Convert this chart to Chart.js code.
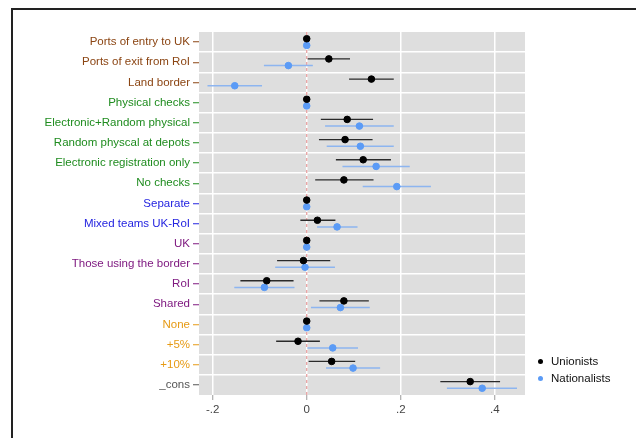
<!DOCTYPE html>
<html>
<head>
<meta charset="utf-8">
<script src="https://cdn.jsdelivr.net/npm/chart.js@4.4.0/dist/chart.umd.min.js"></script>
<style>
  html, body { margin: 0; padding: 0; background: #fff; }
  #wrap { position: relative; width: 636px; height: 438px; overflow: hidden; font-family: "Liberation Sans", Arial, sans-serif; }
  #frame { position: absolute; left: 11px; top: 8px; right: -10px; bottom: -10px;
           border-top: 2px solid #222; border-left: 2px solid #222; }
  #grafica { position: absolute; left: 0; top: 0; }
  #leyenda { position: absolute; left: 538px; top: 353px; font-size: 11.5px; line-height: 17px; color: #111; }
  #leyenda .dot { display: inline-block; width: 5px; height: 5px; border-radius: 50%; margin-right: 8px; vertical-align: 1px; }
</style>
</head>
<body>
<div id="wrap">
  <div id="frame"></div>
  <canvas id="grafica" width="636" height="438"></canvas>
  <div id="leyenda"></div>
</div>
<script>
const categories = [
  "Ports of entry to UK", "Ports of exit from RoI", "Land border",
  "Physical checks", "Electronic+Random physical", "Random physcal at depots",
  "Electronic registration only", "No checks",
  "Separate", "Mixed teams UK-RoI",
  "UK", "Those using the border", "RoI", "Shared",
  "None", "+5%", "+10%",
  "_cons"
];
const groups = [
  "location", "location", "location",
  "checks", "checks", "checks", "checks", "checks",
  "teams", "teams",
  "pays", "pays", "pays", "pays",
  "cost", "cost", "cost",
  "cons"
];

const unionCoef = [0, 0.047, 0.1375, 0, 0.086, 0.0815, 0.12, 0.079, 0, 0.0227, 0, -0.007, -0.085, 0.079, 0, -0.0185, 0.053, 0.3475];
const unionLo   = [0, 0.002, 0.090, 0, 0.030, 0.026, 0.062, 0.018, 0, -0.0135, 0, -0.063, -0.141, 0.027, 0, -0.065, 0.004, 0.284];
const unionHi   = [0, 0.092, 0.185, 0, 0.141, 0.140, 0.179, 0.142, 0, 0.061, 0, 0.050, -0.028, 0.132, 0, 0.028, 0.103, 0.411];

const natCoef = [0, -0.039, -0.153, 0, 0.112, 0.114, 0.1475, 0.1915, 0, 0.0645, 0, -0.0036, -0.090, 0.0716, 0, 0.0553, 0.0985, 0.373];
const natLo   = [0, -0.091, -0.211, 0, 0.039, 0.0425, 0.076, 0.119, 0, 0.022, 0, -0.067, -0.154, 0.009, 0, 0.0014, 0.041, 0.298];
const natHi   = [0, 0.013, -0.095, 0, 0.185, 0.185, 0.219, 0.264, 0, 0.108, 0, 0.060, -0.026, 0.134, 0, 0.109, 0.156, 0.447];

const xTickValues = [-0.2, 0, 0.2, 0.4];
const xTickLabels = ["-.2", "0", ".2", ".4"];

const groupColors = {
  location: "#8b4513", checks: "#1f8c1f", teams: "#2424e0",
  pays: "#7f1a80", cost: "#e69a14", cons: "#555555"
};

// black sits a bit above the row centre, blue a bit below
const shift = 0.165;
const font = { family: "'Liberation Sans', Arial, sans-serif", size: 11.5 };

function points(coef, off) {
  return coef.map((v, i) => ({ x: v, y: i + off }));
}
function intervals(lo, hi, off) {
  const out = [];
  lo.forEach((v, i) => {
    out.push({ x: v, y: i + off }, { x: hi[i], y: i + off }, { x: null, y: null });
  });
  return out;
}

const plotBg = {
  id: "plotBg",
  beforeDraw(chart) {
    const { ctx, chartArea: a } = chart;
    ctx.save();
    ctx.fillStyle = "#dedede";
    ctx.fillRect(a.left, a.top, a.right - a.left, a.bottom - a.top);
    ctx.restore();
  }
};

const yMax = categories.length - 0.5;

const chart = new Chart(document.getElementById("grafica"), {
  type: "scatter",
  data: {
    datasets: [
      { label: "Unionists", data: points(unionCoef, -shift), backgroundColor: "#000", borderColor: "#000",
        pointRadius: 3.3, pointHoverRadius: 3.3, order: 1 },
      { label: "Nationalists", data: points(natCoef, shift), backgroundColor: "#5b9bf6", borderColor: "#5b9bf6",
        pointRadius: 3.3, pointHoverRadius: 3.3, order: 1 },
      { label: "ci-u", data: intervals(unionLo, unionHi, -shift), showLine: true, spanGaps: false,
        borderColor: "#2a2a2a", borderWidth: 1.3, pointRadius: 0, order: 3 },
      { label: "ci-n", data: intervals(natLo, natHi, shift), showLine: true, spanGaps: false,
        borderColor: "#8db5f0", borderWidth: 1.5, pointRadius: 0, order: 3 },
      { label: "zero", data: [{ x: 0, y: -0.5 }, { x: 0, y: yMax }], showLine: true,
        borderColor: "#e8a0a0", borderWidth: 1.3, borderDash: [3, 3], pointRadius: 0, order: 5 }
    ]
  },
  options: {
    responsive: false,
    animation: false,
    layout: { padding: { left: 0, top: 32, right: 111, bottom: 0 } },
    plugins: { legend: { display: false }, tooltip: { enabled: false } },
    scales: {
      x: {
        type: "linear", min: -0.229, max: 0.464,
        afterBuildTicks(scale) { scale.ticks = xTickValues.map(v => ({ value: v })); },
        afterFit(scale) { scale.height = 43; },
        grid: { color: "#ffffff", lineWidth: 1.5, tickColor: "#9a9a9a", tickLength: 5, tickWidth: 1 },
        border: { display: false },
        ticks: { callback: (v, i) => xTickLabels[i], color: "#444", padding: 3, font }
      },
      y: {
        type: "linear", reverse: true, min: -0.5, max: yMax,
        afterBuildTicks(scale) {
          const t = [];
          for (let v = 0; v <= categories.length - 1; v += 0.5) t.push({ value: v });
          scale.ticks = t;
        },
        afterFit(scale) { scale.width = 199; },
        grid: {
          color: c => (c.tick && c.tick.value % 1 !== 0) ? "#ffffff" : "rgba(0,0,0,0)",
          lineWidth: 1.5,
          tickColor: c => (c.tick && c.tick.value % 1 === 0) ? groupColors[groups[c.tick.value]] : "rgba(0,0,0,0)",
          tickLength: 6, tickWidth: 1
        },
        border: { display: false },
        ticks: {
          autoSkip: false, padding: 3, font,
          color: c => (c.tick && c.tick.value % 1 === 0) ? groupColors[groups[c.tick.value]] : "#000",
          callback: v => Number.isInteger(v) ? categories[v] : ""
        }
      }
    }
  },
  plugins: [plotBg]
});

const leyenda = document.getElementById("leyenda");
chart.data.datasets.slice(0, 2).forEach(d => {
  leyenda.innerHTML += `<div><span class="dot" style="background:${d.backgroundColor}"></span>${d.label}</div>`;
});
</script>
</body>
</html>
